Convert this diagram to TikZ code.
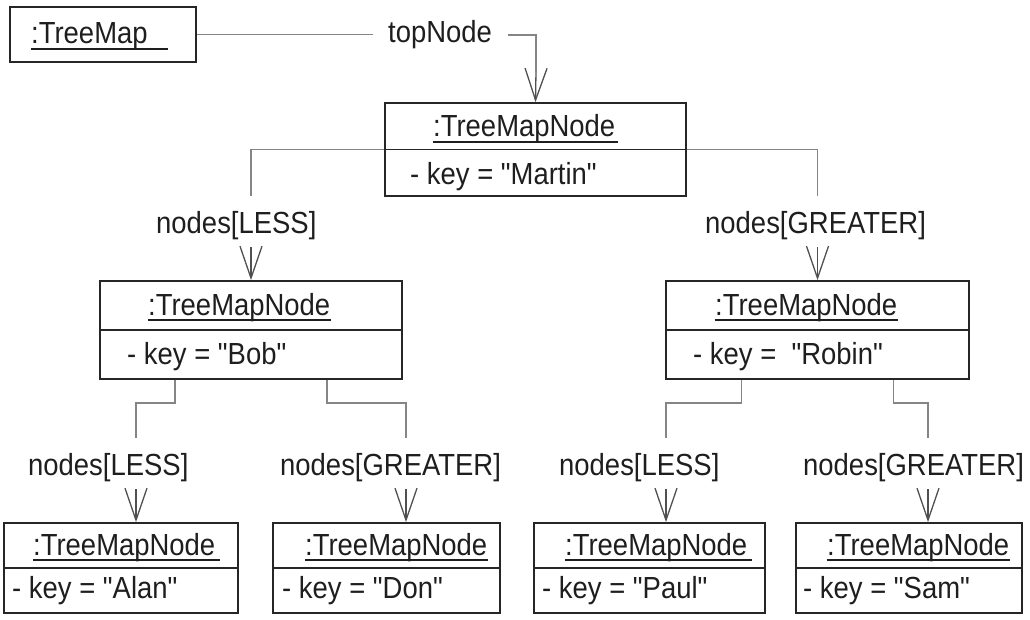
\documentclass[tikz,border=0pt]{standalone}
\usepackage{fontspec}
\setmainfont{Liberation Sans}[FakeStretch=0.9, Ligatures=TeXOff]
\usetikzlibrary{arrows.meta,calc}
\definecolor{boxc}{HTML}{262626}
\definecolor{connc}{HTML}{858585}
\definecolor{arrc}{HTML}{505050}
\definecolor{txtc}{HTML}{1E1E1E}
\begin{document}
\begin{tikzpicture}[x=1pt,y=-1pt,
  obj/.style={draw=boxc, line width=1.7pt, inner sep=0pt},
  divider/.style={draw=boxc, line width=1.5pt},
  conn/.style={draw=connc, line width=1.6pt},
  arr/.style={draw=arrc, line width=1.3pt, -{Straight Barb[length=32pt,width=22pt]}},
  txt/.style={inner sep=0pt, anchor=base west, text=txtc, font=\fontsize{30.5}{31}\selectfont},
  uline/.style={draw=txtc, line width=1.3pt}]
\useasboundingbox (0,0) rectangle (1030,620);

% ---------- boxes ----------
\node[obj, minimum width=186pt, minimum height=55pt] (tm) at (103,34.5) {};
\node[obj, minimum width=301pt, minimum height=93pt] (martin) at (535.5,149.5) {};
\node[obj, minimum width=302pt, minimum height=98pt] (bob) at (251,330) {};
\node[obj, minimum width=303pt, minimum height=98pt] (robin) at (817.5,330) {};
\node[obj, minimum width=234pt, minimum height=90pt] (alan) at (121,568) {};
\node[obj, minimum width=227pt, minimum height=90pt] (don) at (386.5,568) {};
\node[obj, minimum width=231pt, minimum height=90pt] (paul) at (649.5,568) {};
\node[obj, minimum width=226pt, minimum height=90pt] (sam) at (909,568) {};

% dividers
\foreach \b in {martin,bob,robin,alan,don,paul,sam}
  \draw[divider] (\b.west) -- (\b.east);

% ---------- titles ----------
\node[txt] (tmt) at (31,44) {:TreeMap};
\node[txt] (martint) at (433,137) {:TreeMapNode};
\node[txt] (bobt) at (148,315) {:TreeMapNode};
\node[txt] (robint) at (715,315) {:TreeMapNode};
\node[txt] (alant) at (33,555) {:TreeMapNode};
\node[txt] (dont) at (305,555) {:TreeMapNode};
\node[txt] (pault) at (565,555) {:TreeMapNode};
\node[txt] (samt) at (827,555) {:TreeMapNode};

\draw[uline] ([yshift=-5pt]tmt.base west) -- ([yshift=-5pt,xshift=20pt]tmt.base east);
\foreach \t/\e in {martint/3,bobt/1,robint/1,alant/5,dont/1,pault/5,samt/1}
  \draw[uline] ([yshift=-5pt]\t.base west) -- ([yshift=-5pt,xshift=\e pt]\t.base east);

% ---------- attributes ----------
\node[txt] (martink) at (410,185) {- key = "Martin"};
\node[txt] (bobk) at (127,364) {- key = "Bob"};
\node[txt] (robink) at (693,364) {- key =\ \ "Robin"};
\node[txt] (alank) at (12,598) {- key = "Alan"};
\node[txt] (donk) at (282,598) {- key = "Don"};
\node[txt] (paulk) at (542,598) {- key = "Paul"};
\node[txt] (samk) at (803,598) {- key = "Sam"};

% ---------- role labels ----------
\node[txt] (topn) at (388,43) {topNode};
\node[txt] (lab1) at (156,234) {nodes[LESS]};
\node[txt] (lab2) at (705,234) {nodes[GREATER]};
\node[txt] (lab3) at (28,475) {nodes[LESS]};
\node[txt] (lab4) at (280,475) {nodes[GREATER]};
\node[txt] (lab5) at (559,475) {nodes[LESS]};
\node[txt] (lab6) at (803,475) {nodes[GREATER]};

% ---------- connectors ----------
% TreeMap -> top node
\coordinate (ta) at (536,71);
\draw[conn, shorten >=15pt] (tm.east) -- (tm.east -| topn.west);
\draw[conn, shorten <=16pt] (topn.east) -| (ta);
\draw[arr] (ta) -- (martin.north);

% Martin -> Bob / Robin
\coordinate (c1) at (251,196);
\coordinate (c2) at (817.5,196);
\draw[conn] (martin.west) -| (c1);
\draw[conn] (martin.east) -| (c2);
\draw[arr] ([yshift=33pt]bob.north) -- (bob.north);
\draw[arr] ([yshift=33pt]robin.north) -- (robin.north);

% Bob -> Alan / Don, Robin -> Paul / Sam
\coordinate (c3) at (136,438);
\coordinate (c4) at (406,438);
\coordinate (c5) at (666,438);
\coordinate (c6) at (928,438);
\draw[conn] ($(bob.south west)!0.25!(bob.south east)$) -- ++(0,23) -| (c3);
\draw[conn] ($(bob.south west)!0.75!(bob.south east)$) -- ++(0,23) -| (c4);
\draw[conn] ($(robin.south west)!0.25!(robin.south east)$) -- ++(0,23) -| (c5);
\draw[conn] ($(robin.south west)!0.75!(robin.south east)$) -- ++(0,23) -| (c6);

\coordinate (a3) at (136,489);
\coordinate (a4) at (406,489);
\coordinate (a5) at (666,489);
\coordinate (a6) at (928,489);
\draw[arr] (a3) -- (a3 |- alan.north);
\draw[arr] (a4) -- (a4 |- don.north);
\draw[arr] (a5) -- (a5 |- paul.north);
\draw[arr] (a6) -- (a6 |- sam.north);
\end{tikzpicture}
\end{document}
